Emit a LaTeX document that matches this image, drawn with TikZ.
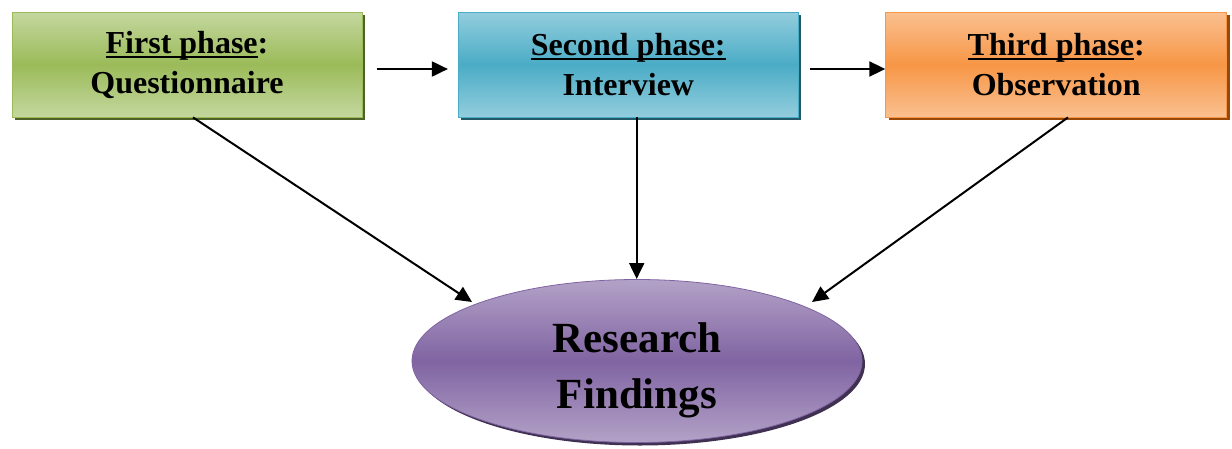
\documentclass[tikz,border=0pt]{standalone}
\usepackage{fontspec}
\setmainfont{Liberation Serif}
\usetikzlibrary{arrows.meta,shadows,shapes.geometric}

% palette: light edge, mid tone, shadow
\definecolor{grnL}{HTML}{C4D79F}
\definecolor{grnM}{HTML}{9BBB59}
\definecolor{grnS}{HTML}{4F6228}
\definecolor{bluL}{HTML}{93CDDD}
\definecolor{bluM}{HTML}{4BACC6}
\definecolor{bluS}{HTML}{215968}
\definecolor{orgL}{HTML}{FAC090}
\definecolor{orgM}{HTML}{F79646}
\definecolor{orgS}{HTML}{984807}
\definecolor{purL}{HTML}{B3A2C7}
\definecolor{purM}{HTML}{8064A2}
\definecolor{purS}{HTML}{403152}

% thick underline under a phase name
\newcommand\phaseul[1]{\setbox0\hbox{#1}\rlap{\rule[-5pt]{\wd0}{2.4pt}}\box0}

\begin{document}
\begin{tikzpicture}[x=1pt,y=-1pt,
  phasebox/.style={rectangle, minimum height=105pt, inner sep=0pt,
    align=center, line width=0.8pt,
    font=\bfseries\fontsize{32}{40}\selectfont},
  tinted/.style n args={3}{top color=#1, bottom color=#1, middle color=#2,
    draw=#2, drop shadow={shadow xshift=3pt, shadow yshift=-3pt,
    fill=#3, opacity=1}},
  arr/.style={line width=2pt, -{Triangle[length=16pt,width=15pt]}}
]
\useasboundingbox (0,0) rectangle (1232,448);

% three phase boxes
\node[phasebox, minimum width=350pt, tinted={grnL}{grnM}{grnS}] (b1) at (187,64.5)
  {\phaseul{First phase}:\\Questionnaire};
\node[phasebox, minimum width=340pt, tinted={bluL}{bluM}{bluS}] (b2) at (628.3,64.5)
  {\phaseul{Second phase:}\\Interview};
\node[phasebox, minimum width=341pt, tinted={orgL}{orgM}{orgS}] (b3) at (1056.2,64.5)
  {\phaseul{Third phase}:\\Observation};

% result ellipse
\node[ellipse, minimum width=450pt, minimum height=163pt, inner sep=0pt,
  line width=0.8pt, tinted={purL}{purM}{purS}] (fin) at (637,361) {};
\node[align=center, font=\bfseries\fontsize{43}{56}\selectfont] (fintext) at (637,370)
  {Research\\Findings};

% arrow tips near the ellipse
\coordinate (t1) at (472,302);
\coordinate (t2) at (636.7,279);
\coordinate (t3) at (812,302);

% phase sequence
\draw[arr, shorten <=15pt, shorten >=10pt] ([yshift=-4.5pt]b1.east) -- ([yshift=-4.5pt]b2.west);
\draw[arr, shorten <=11pt] ([yshift=-4.5pt]b2.east) -- ([yshift=-4.5pt]b3.west);

% each phase feeds the findings
\draw[arr] ([xshift=6pt]b1.south) -- (t1);
\draw[arr] ([xshift=8.4pt]b2.south) -- (t2);
\draw[arr] ([xshift=11.8pt]b3.south) -- (t3);
\end{tikzpicture}
\end{document}
